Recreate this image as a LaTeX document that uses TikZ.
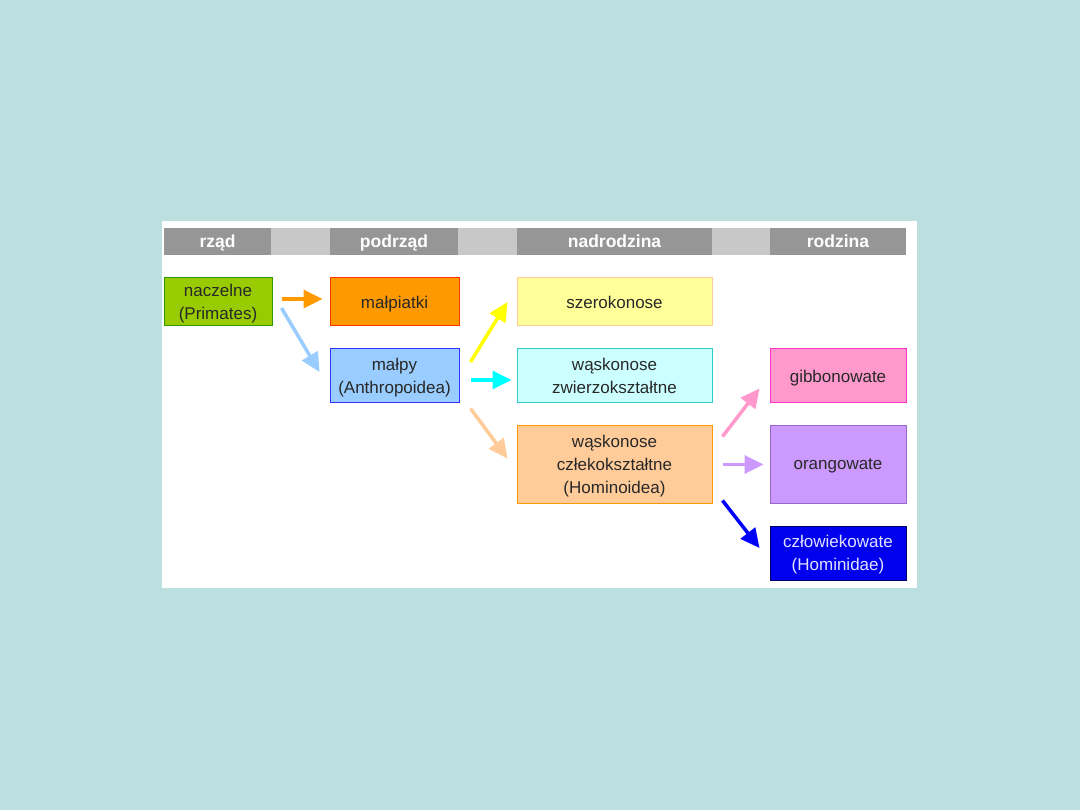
\documentclass[tikz,border=0pt]{standalone}
\usepackage{fontspec}
\setmainfont{Liberation Sans}
\usetikzlibrary{positioning,arrows.meta}
\definecolor{bgteal}{RGB}{188,224,224}
\definecolor{headdark}{RGB}{150,150,150}
\definecolor{headlight}{RGB}{200,200,200}
\definecolor{inktext}{RGB}{40,40,40}

\begin{document}
\begin{tikzpicture}[x=1pt, y=-1pt,
  every node/.style={font=\fontsize{17}{23}\selectfont, text=inktext},
  head/.style={fill=headdark, minimum height=27pt, inner sep=0pt, text height=13pt, text depth=0pt, text=white, font=\fontsize{17.5}{20}\selectfont\bfseries},
  box/.style={draw, line width=1pt, inner sep=0pt, text depth=0pt, align=center},
  arr/.style={line width=3.5pt, -{Triangle[length=19pt,width=18pt]}}]
\useasboundingbox (0,0) rectangle (1080,810);
\fill[bgteal] (0,0) rectangle (1080,810);
\fill[white] (162,221) rectangle (917,588);
% header bar
\node[head, minimum width=107pt] (hrzad) at (217.5,241.5) {rząd};
\node[head, minimum width=128pt] (hpod) at (394,241.5) {podrząd};
\node[head, minimum width=195pt] (hnad) at (614.5,241.5) {nadrodzina};
\node[head, minimum width=136pt] (hrodz) at (838,241.5) {rodzina};
\fill[headlight] (hrzad.north east) rectangle (hpod.south west);
\fill[headlight] (hpod.north east) rectangle (hnad.south west);
\fill[headlight] (hnad.north east) rectangle (hrodz.south west);
% boxes
\node[box, fill={rgb,255:red,153;green,204;blue,0}, draw={rgb,255:red,51;green,153;blue,0}, minimum width=108pt, minimum height=48pt] (nacz) at (218,302) {naczelne\\(Primates)};
\node[box, fill={rgb,255:red,255;green,153;blue,0}, draw={rgb,255:red,255;green,51;blue,0}, minimum width=129pt, minimum height=48pt] (malpiatki) at (394.5,302) {małpiatki};
\node[box, fill={rgb,255:red,153;green,204;blue,255}, draw={rgb,255:red,51;green,51;blue,255}, minimum width=129pt, minimum height=54pt] (malpy) at (394.5,376) {małpy\\(Anthropoidea)};
\node[box, fill={rgb,255:red,255;green,255;blue,153}, draw={rgb,255:red,255;green,204;blue,153}, minimum width=195pt, minimum height=48pt] (szer) at (614.5,302) {szerokonose};
\node[box, fill={rgb,255:red,204;green,255;blue,255}, draw={rgb,255:red,51;green,204;blue,204}, minimum width=195pt, minimum height=54pt] (zwierz) at (614.5,376) {wąskonose\\zwierzokształtne};
\node[box, fill={rgb,255:red,255;green,204;blue,153}, draw={rgb,255:red,255;green,153;blue,0}, minimum width=195pt, minimum height=77pt] (czleko) at (614.5,464.5) {wąskonose\\człekokształtne\\(Hominoidea)};
\node[box, fill={rgb,255:red,255;green,153;blue,204}, draw={rgb,255:red,255;green,51;blue,204}, minimum width=136pt, minimum height=54pt] (gibbon) at (838,376) {gibbonowate};
\node[box, fill={rgb,255:red,204;green,153;blue,255}, draw={rgb,255:red,153;green,102;blue,204}, minimum width=136pt, minimum height=77pt] (orang) at (838,464.5) {orangowate};
\node[box, fill={rgb,255:red,0;green,0;blue,238}, draw={rgb,255:red,0;green,0;blue,100}, text={rgb,255:red,225;green,225;blue,255}, minimum width=136pt, minimum height=54pt] (czlow) at (838,553) {człowiekowate\\(Hominidae)};
% arrows
\draw[arr, color={rgb,255:red,255;green,153;blue,0}] ([shift={(9,-3)}]nacz.east) -- ([shift={(-7,-3)}]malpiatki.west);
\draw[arr, color={rgb,255:red,153;green,204;blue,255}] ([shift={(9,6)}]nacz.east) -- ([shift={(-10,-4)}]malpy.west);
\draw[arr, color={rgb,255:red,255;green,255;blue,0}] ([shift={(11,-14)}]malpy.east) -- ([shift={(-9,0)}]szer.west);
\draw[arr, color={rgb,255:red,0;green,255;blue,255}] ([shift={(11,4)}]malpy.east) -- ([shift={(-5,4)}]zwierz.west);
\draw[arr, color={rgb,255:red,255;green,204;blue,153}] ([shift={(11,5)}]malpy.south east) -- ([shift={(-9,-6)}]czleko.west);
\draw[arr, color={rgb,255:red,255;green,153;blue,204}] ([shift={(10,11)}]czleko.north east) -- ([shift={(-10,-15)}]gibbon.south west);
\draw[arr, color={rgb,255:red,204;green,153;blue,255}] ([shift={(10,0)}]czleko.east) -- ([shift={(-6,0)}]orang.west);
\draw[arr, color={rgb,255:red,0;green,0;blue,255}] ([shift={(10,-3)}]czleko.south east) -- ([shift={(-10,-5)}]czlow.west);
\end{tikzpicture}
\end{document}
